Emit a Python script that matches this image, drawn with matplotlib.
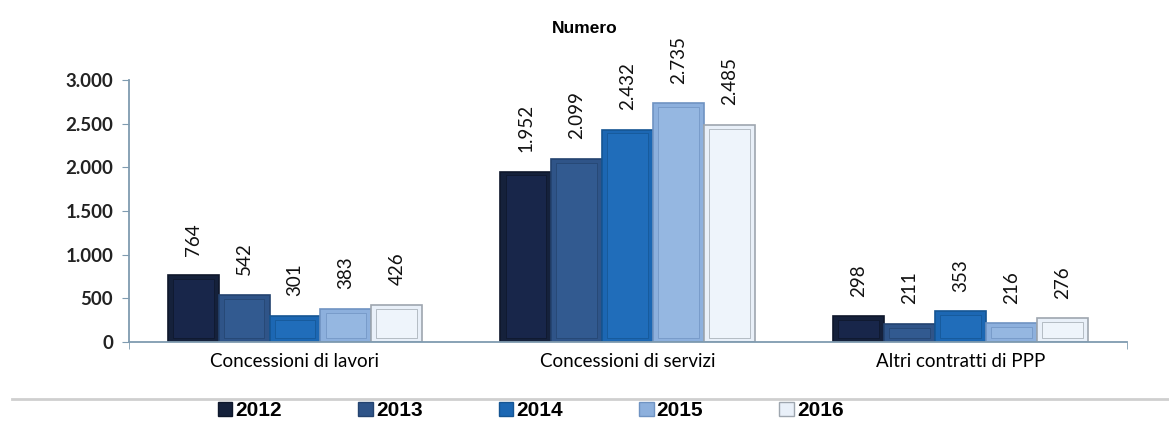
import matplotlib.pyplot as plt
import numpy as np
from matplotlib.ticker import FuncFormatter
from matplotlib.patches import Patch

# data
categories = ['Concessioni di lavori', 'Concessioni di servizi', 'Altri contratti di PPP']
years = ['2012', '2013', '2014', '2015', '2016']
v2012 = [764, 1952, 298]
v2013 = [542, 2099, 211]
v2014 = [301, 2432, 353]
v2015 = [383, 2735, 216]
v2016 = [426, 2485, 276]

series = [v2012, v2013, v2014, v2015, v2016]
colors = ['#15213b', '#2f5488', '#1c67b3', '#8db0dd', '#e9f0f9']
inner = ['#18264a', '#325a90', '#206dba', '#95b7e1', '#eef4fb']
edges = ['#0e172b', '#24436f', '#155593', '#6f93c2', '#9ea6af']


def it_fmt(v):
    return f'{int(round(v)):,}'.replace(',', '.')


plt.rcParams['font.family'] = ['Lato', 'DejaVu Sans']

fig = plt.figure(figsize=(11.69, 4.25), dpi=100)
ax = fig.add_axes([0.110, 0.195, 0.854, 0.617])

x = np.arange(len(categories))
w = 0.153
for i, vals in enumerate(series):
    pos = x + (i - 2) * w
    ax.bar(pos, vals, width=w, color=colors[i], edgecolor=edges[i], linewidth=1.2, zorder=2)
    # inner panel for the bevel look
    ax.bar(pos, [max(v - 90, 10) for v in vals], bottom=45, width=w * 0.8,
           color=inner[i], edgecolor=edges[i], linewidth=0.5, zorder=3)
    for p, v in zip(pos, vals):
        ax.annotate(it_fmt(v), (p, v), xytext=(0, 14), textcoords='offset points',
                    rotation=90, ha='center', va='bottom', fontsize=13.5, color='#111111')

ax.set_xlim(-0.5, 2.5)
ax.set_ylim(0, 3000)
ax.set_yticks(np.arange(0, 3001, 500))
ax.yaxis.set_major_formatter(FuncFormatter(lambda v, p: it_fmt(v)))
ax.set_xticks(x)
ax.set_xticklabels(categories, fontsize=13.5)
ax.set_xticks([-0.5, 2.5], minor=True)
ax.tick_params(axis='x', which='major', length=0, pad=8)
ax.tick_params(axis='x', which='minor', length=5, color='#7f9bb0')
ax.tick_params(axis='y', length=5, color='#7f9bb0', labelsize=13.5, pad=6)
for t in ax.get_yticklabels():
    t.set_fontweight('bold')
    t.set_color('#222222')
for s in ['top', 'right']:
    ax.spines[s].set_visible(False)
for s in ['left', 'bottom']:
    ax.spines[s].set_color('#7f9bb0')
    ax.spines[s].set_linewidth(1.3)

fig.text(0.5, 0.934, 'Numero', ha='center', va='center', fontsize=12.5,
         fontweight='bold', family=['Liberation Sans', 'DejaVu Sans'])

# separator line above the legend
fig.add_artist(plt.Line2D([0.01, 1.0], [0.061, 0.061], color='#cfcfcf', linewidth=2))

handles = [Patch(facecolor=colors[i], edgecolor=edges[i], label=years[i]) for i in range(5)]
fig.legend(handles=handles, loc='center', bbox_to_anchor=(0.454, 0.033), ncol=5,
           frameon=False, handlelength=0.7, handleheight=0.7, handletextpad=0.15,
           columnspacing=3.65, prop={'family': ['Liberation Sans', 'DejaVu Sans'],
                                     'weight': 'bold', 'size': 15})

fig.savefig('out.png', dpi=100)
